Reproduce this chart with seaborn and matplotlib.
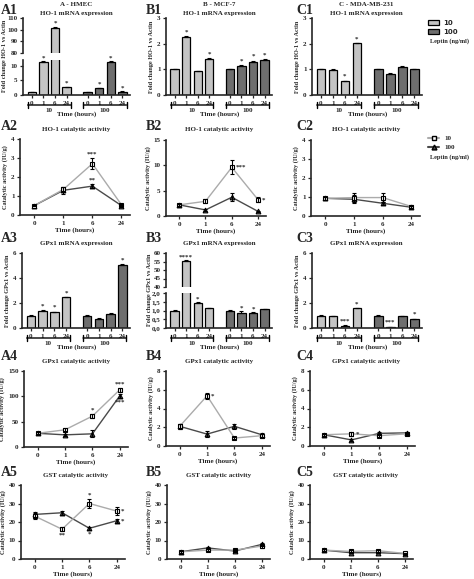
import numpy as np
import pandas as pd
import matplotlib
matplotlib.use('Agg')
import matplotlib.pyplot as plt
from matplotlib.patches import Patch
from matplotlib.lines import Line2D
import seaborn as sns

W, H = 474, 579

times = ['0', '1', '6', '24']

# ---- row 1: HO-1 mRNA (fold change vs actin)
a1_10, a1_100 = [1.0, 11.4, 101.0, 2.7], [1.0, 2.4, 11.4, 1.2]
a1_e10, a1_e100 = [0.05, 0.2, 1.5, 0.15], [0.05, 0.15, 0.2, 0.1]
a1_s10, a1_s100 = ['', '*', '*', '*'], ['', '*', '*', '*']
b1_10, b1_100 = [1.0, 2.27, 0.92, 1.41], [1.0, 1.13, 1.28, 1.35]
b1_e10, b1_e100 = [0.02, 0.04, 0.02, 0.03], [0.02, 0.03, 0.06, 0.04]
b1_s10, b1_s100 = ['', '*', '', '*'], ['', '*', '*', '*']
c1_10, c1_100 = [1.0, 0.97, 0.53, 2.01], [1.0, 0.81, 1.09, 1.0]
c1_e10, c1_e100 = [0.03, 0.03, 0.03, 0.03], [0.03, 0.04, 0.03, 0.03]
c1_s10, c1_s100 = ['', '', '*', '*'], ['', '', '', '']

# ---- row 2: HO-1 catalytic activity
a2_10, a2_100 = [0.5, 1.35, 2.7, 0.55], [0.5, 1.3, 1.52, 0.5]
a2_e10, a2_e100 = [0.05, 0.12, 0.3, 0.05], [0.05, 0.2, 0.1, 0.05]
b2_10, b2_100 = [2.2, 2.9, 9.6, 3.2], [2.2, 1.2, 3.7, 0.9]
b2_e10, b2_e100 = [0.2, 0.4, 1.4, 0.5], [0.2, 0.2, 0.8, 0.1]
c2_10, c2_100 = [0.93, 0.97, 0.97, 0.5], [0.93, 0.88, 0.67, 0.46]
c2_e10, c2_e100 = [0.08, 0.25, 0.22, 0.06], [0.08, 0.2, 0.08, 0.05]

# ---- row 3: GPx1 mRNA
a3_10, a3_100 = [1.0, 1.38, 1.28, 2.45], [1.0, 0.75, 1.15, 5.07]
a3_e10, a3_e100 = [0.03, 0.05, 0.04, 0.04], [0.03, 0.03, 0.04, 0.06]
a3_s10, a3_s100 = ['', '*', '*', '*'], ['', '', '', '*']
b3_10, b3_100 = [1.0, 55.5, 1.43, 1.14], [1.0, 0.87, 0.85, 1.08]
b3_e10, b3_e100 = [0.03, 0.3, 0.05, 0.03], [0.03, 0.1, 0.05, 0.03]
b3_s10, b3_s100 = ['', '****', '*', ''], ['', '*', '*', '']
c3_10, c3_100 = [1.0, 0.97, 0.19, 1.57], [1.0, 0.1, 0.95, 0.72]
c3_e10, c3_e100 = [0.03, 0.03, 0.02, 0.04], [0.03, 0.02, 0.03, 0.04]
c3_s10, c3_s100 = ['', '', '***', '*'], ['', '***', '', '*']

# ---- row 4: GPx1 catalytic activity
a4_10, a4_100 = [27, 34, 61, 113], [27, 24, 26, 101]
a4_e10, a4_e100 = [2, 3, 4, 4], [2, 2, 7, 4]
b4_10, b4_100 = [2.1, 5.35, 0.85, 1.1], [2.1, 1.27, 2.1, 1.2]
b4_e10, b4_e100 = [0.3, 0.3, 0.15, 0.2], [0.3, 0.35, 0.3, 0.2]
c4_10, c4_100 = [1.2, 1.3, 1.1, 1.3], [1.2, 0.65, 1.35, 1.4]
c4_e10, c4_e100 = [0.1, 0.2, 0.1, 0.1], [0.1, 0.15, 0.1, 0.1]

# ---- row 5: GST catalytic activity
a5_10, a5_100 = [23.2, 16.1, 30.0, 25.9], [24.1, 25.0, 16.6, 20.7]
a5_e10, a5_e100 = [1.8, 1.0, 2.5, 2.0], [1.5, 1.0, 0.8, 1.0]
b5_10, b5_100 = [3.9, 4.8, 4.8, 7.0], [3.9, 6.0, 4.3, 7.9]
b5_e10, b5_e100 = [0.4, 0.6, 0.5, 0.8], [0.4, 0.6, 0.5, 0.8]
c5_10, c5_100 = [4.8, 4.1, 4.5, 3.0], [4.8, 3.4, 3.4, 2.9]
c5_e10, c5_e100 = [0.4, 0.5, 0.5, 0.4], [0.4, 0.4, 0.4, 0.4]

LIGHT, DARK = '#c4c4c4', '#6e6e6e'
LLINE, DLINE = '#ababab', '#4a4a4a'
POS10 = [0, 1, 2, 3]
POS100 = [4.8, 5.8, 6.8, 7.8]

sns.set_style('ticks')
plt.rcParams['font.family'] = ['Liberation Serif', 'DejaVu Serif']
plt.rcParams['font.weight'] = 'bold'
plt.rcParams['axes.labelweight'] = 'bold'

fig = plt.figure(figsize=(W / 100, H / 100), dpi=100)


def px_axes(box):
    l, t, r, b = box
    return fig.add_axes([l / W, 1 - b / H, (r - l) / W, (b - t) / H])


def ftext(x, y, s, **kw):
    fig.text(x / W, 1 - y / H, s, **kw)


def style(ax):
    sns.despine(ax=ax)
    for s in ['left', 'bottom']:
        ax.spines[s].set_linewidth(1.2)
    ax.tick_params(width=0.9, length=2.5, labelsize=5, pad=1.5)
    for lab in ax.get_xticklabels() + ax.get_yticklabels():
        lab.set_fontweight('bold')


def bar_panel(axes, ylims, yticks, v10, e10, v100, e100, s10, s100, box):
    df = pd.DataFrame({'x': POS10 + POS100, 'y': v10 + v100,
                       'dose': ['10'] * 4 + ['100'] * 4})
    for ax, yl, yt in zip(axes, ylims, yticks):
        sns.barplot(data=df, x='x', y='y', hue='dose', palette={'10': LIGHT, '100': DARK},
                    native_scale=True, dodge=False, width=0.72, errorbar=None,
                    edgecolor='black', linewidth=0.9, legend=False, ax=ax)
        for pos, v, e in [(POS10, v10, e10), (POS100, v100, e100)]:
            ax.errorbar(pos, v, yerr=[np.zeros(4), e], fmt='none', ecolor='black',
                        elinewidth=0.8, capsize=1.5, capthick=0.8)
        ax.set_ylim(*yl)
        ax.set_yticks(yt)
        ax.set_xlim(-0.75, 8.45)
        ax.set_xlabel('')
        ax.set_ylabel('')
        pad = (yl[1] - yl[0]) * 0.02
        for pos, v, e, st in [(POS10, v10, e10, s10), (POS100, v100, e100, s100)]:
            for p, vv, ee, s in zip(pos, v, e, st):
                if s and yl[0] <= vv + ee <= yl[1]:
                    ax.text(p, vv + ee + pad, s, ha='center', va='bottom', fontsize=5)
        style(ax)
    low = axes[-1]
    low.set_xticks(POS10 + POS100)
    low.set_xticklabels(times * 2)
    style(low)
    for ax in axes[:-1]:
        ax.spines['bottom'].set_visible(False)
        ax.set_xticks([])
    hpx = box[3] - box[1]
    tr = low.get_xaxis_transform()
    yb = -10 / hpx
    for pos, lab in [(POS10, '10'), (POS100, '100')]:
        low.annotate('', xy=(pos[0] - 0.35, yb), xytext=(pos[-1] + 0.35, yb), xycoords=tr,
                     textcoords=tr, arrowprops=dict(arrowstyle='|-|, widthA=0.2, widthB=0.2',
                                                    lw=1.0, color='black', shrinkA=0, shrinkB=0))
        low.text((pos[0] + pos[-1]) / 2, -13 / hpx, lab, transform=tr, ha='center',
                 va='top', fontsize=5)
    low.text(3.9, -16 / hpx, 'Time (hours)', transform=tr, ha='center', va='top', fontsize=5)


def line_panel(ax, ylim, yticks, v10, e10, v100, e100, stars):
    x = [0, 1, 2, 3]
    sns.lineplot(x=x, y=v100, color=DLINE, lw=1.0, marker='^', markersize=3.5,
                 markerfacecolor=DLINE, markeredgecolor='black', markeredgewidth=0.7, ax=ax)
    sns.lineplot(x=x, y=v10, color=LLINE, lw=1.0, marker='s', markersize=3.3,
                 markerfacecolor='white', markeredgecolor='black', markeredgewidth=0.8, ax=ax)
    for v, e in [(v10, e10), (v100, e100)]:
        ax.errorbar(x, v, yerr=e, fmt='none', ecolor='black', elinewidth=0.8,
                    capsize=1.5, capthick=0.8)
    ax.set_ylim(*ylim)
    ax.set_yticks(yticks)
    ax.set_xlim(-0.5, 3.3)
    ax.set_xticks(x)
    ax.set_xticklabels(times)
    ax.set_ylabel('Catalytic activity (IU/g)', fontsize=4.5, labelpad=2)
    ax.set_xlabel('Time (hours)', fontsize=5, labelpad=1.5)
    pad = (ylim[1] - ylim[0]) * 0.02
    for dose, i, s, where in stars:
        v, e = (v10, e10) if dose == '10' else (v100, e100)
        if where == 'above':
            ax.text(i, v[i] + e[i] + pad, s, ha='center', va='bottom', fontsize=5)
        elif where == 'below':
            ax.text(i, v[i] - e[i] - pad, s, ha='center', va='top', fontsize=5)
        else:
            ax.text(i + 0.15, v[i], s, ha='left', va='center', fontsize=5)
    style(ax)


# ---------- row 1
box = (23, 60, 130, 95)
a1u = px_axes((23, 18, 130, 53))
a1l = px_axes(box)
bar_panel([a1u, a1l], [(80, 110), (0, 12)], [[80, 90, 100, 110], [0, 5, 10]],
          a1_10, a1_e10, a1_100, a1_e100, a1_s10, a1_s100, box)
ftext(4.5, 56, 'Fold change HO-1 vs Actin', rotation=90, ha='center', va='center', fontsize=4.5)

box = (166, 18, 272, 95)
b1 = px_axes(box)
bar_panel([b1], [(0, 3)], [[0, 1, 2, 3]], b1_10, b1_e10, b1_100, b1_e100, b1_s10, b1_s100, box)
b1.set_ylabel('Fold change HO-1 vs Actin', fontsize=4.5, labelpad=2)

box = (312, 18, 422, 95)
c1 = px_axes(box)
bar_panel([c1], [(0, 3)], [[0, 1, 2, 3]], c1_10, c1_e10, c1_100, c1_e100, c1_s10, c1_s100, box)
c1.set_ylabel('Fold change HO-1 vs Actin', fontsize=4.5, labelpad=2)
fig.legend(handles=[Patch(facecolor=LIGHT, edgecolor='black', lw=0.9),
                    Patch(facecolor=DARK, edgecolor='black', lw=0.9)],
           labels=['10', '100'], loc='upper left', bbox_to_anchor=(424 / W, 1 - 16 / H),
           frameon=False, handlelength=1.5, handleheight=0.7, labelspacing=0.35,
           handletextpad=0.6, borderaxespad=0.2,
           prop={'family': 'DejaVu Sans', 'size': 5})
ftext(430, 41, 'Leptin (ng/ml)', ha='left', va='center', fontsize=4.5)

# ---------- row 2
a2 = px_axes((20, 139, 130, 215))
line_panel(a2, (0, 4), [0, 1, 2, 3, 4], a2_10, a2_e10, a2_100, a2_e100,
           [('10', 2, '***', 'above'), ('100', 2, '**', 'above')])
b2 = px_axes((166, 140, 266, 216))
line_panel(b2, (0, 15), [0, 5, 10, 15], b2_10, b2_e10, b2_100, b2_e100,
           [('10', 2, '***', 'right'), ('10', 3, '*', 'right')])
c2 = px_axes((311, 140, 420, 216))
line_panel(c2, (0, 4), [0, 1, 2, 3, 4], c2_10, c2_e10, c2_100, c2_e100, [])
fig.legend(handles=[Line2D([], [], color=LLINE, marker='s', mfc='white', mec='black', ms=3.3),
                    Line2D([], [], color=DLINE, marker='^', mfc=DLINE, mec='black', ms=3.5)],
           labels=['10', '100'], loc='upper left', bbox_to_anchor=(422 / W, 1 - 129 / H),
           frameon=False, fontsize=5, handlelength=1.6, labelspacing=0.5)
ftext(430, 157, 'Leptin (ng/ml)', ha='left', va='center', fontsize=4.5)

# ---------- row 3
box = (22, 253, 130, 328)
a3 = px_axes(box)
bar_panel([a3], [(0, 6)], [[0, 2, 4, 6]], a3_10, a3_e10, a3_100, a3_e100, a3_s10, a3_s100, box)
a3.set_ylabel('Fold change GPx1 vs Actin', fontsize=4.5, labelpad=2)

box = (166, 293, 272, 328)
b3u = px_axes((166, 253, 272, 287))
b3l = px_axes(box)
bar_panel([b3u, b3l], [(40, 60), (0, 2)], [[40, 45, 50, 55, 60], [0, 0.5, 1.0, 1.5, 2.0]],
          b3_10, b3_e10, b3_100, b3_e100, b3_s10, b3_s100, box)
b3l.set_yticklabels(['0,0', '0,5', '1,0', '1,5', '2,0'])
for lab in b3l.get_yticklabels():
    lab.set_fontweight('bold')
ftext(150, 290, 'Fold change GPx1 vs Actin', rotation=90, ha='center', va='center', fontsize=4.5)

box = (312, 253, 422, 328)
c3 = px_axes(box)
bar_panel([c3], [(0, 6)], [[0, 2, 4, 6]], c3_10, c3_e10, c3_100, c3_e100, c3_s10, c3_s100, box)
c3.set_ylabel('Fold change GPx1 vs Actin', fontsize=4.5, labelpad=2)

# ---------- row 4
a4 = px_axes((24, 371, 128, 447))
line_panel(a4, (0, 150), [0, 50, 100, 150], a4_10, a4_e10, a4_100, a4_e100,
           [('10', 2, '*', 'above'), ('10', 3, '***', 'above'), ('100', 3, '***', 'below')])
b4 = px_axes((166, 371, 270, 446))
line_panel(b4, (0, 8), [0, 2, 4, 6, 8], b4_10, b4_e10, b4_100, b4_e100,
           [('10', 1, '*', 'right')])
c4 = px_axes((310, 371, 415, 446))
line_panel(c4, (0, 8), [0, 2, 4, 6, 8], c4_10, c4_e10, c4_100, c4_e100,
           [('10', 1, '*', 'right')])

# ---------- row 5
a5 = px_axes((21, 485, 125, 559))
line_panel(a5, (0, 40), [0, 10, 20, 30, 40], a5_10, a5_e10, a5_100, a5_e100,
           [('10', 1, '**', 'below'), ('10', 2, '*', 'above'), ('100', 2, '*', 'below'),
            ('10', 3, '*', 'right'), ('100', 3, '*', 'right')])
b5 = px_axes((167, 485, 270, 559))
line_panel(b5, (0, 40), [0, 10, 20, 30, 40], b5_10, b5_e10, b5_100, b5_e100, [])
c5 = px_axes((310, 485, 413, 559))
line_panel(c5, (0, 40), [0, 10, 20, 30, 40], c5_10, c5_e10, c5_100, c5_e100, [])

# ---------- titles and panel letters
col_mid = [76, 219, 366]
ftext(col_mid[0], 4, 'A - HMEC', ha='center', va='center', fontsize=5)
ftext(col_mid[1], 4, 'B - MCF-7', ha='center', va='center', fontsize=5)
ftext(col_mid[2], 4, 'C - MDA-MB-231', ha='center', va='center', fontsize=5)
row_titles = [(13, 'HO-1 mRNA expression'), (130, 'HO-1 catalytic activity'),
              (244, 'GPx1 mRNA expression'), (361, 'GPx1 catalytic activity'),
              (476, 'GST catalytic activity')]
label_y = [11, 126, 238, 356, 472]
for r, ((ty, title), ly) in enumerate(zip(row_titles, label_y)):
    for c, (cx, letter, lx) in enumerate(zip(col_mid, 'ABC', [1, 146, 296])):
        ftext(cx, ty, title, ha='center', va='center', fontsize=5)
        ftext(lx, ly, f'{letter}{r + 1}', ha='left', va='center', fontsize=10)

fig.savefig('out.png', dpi=100)
